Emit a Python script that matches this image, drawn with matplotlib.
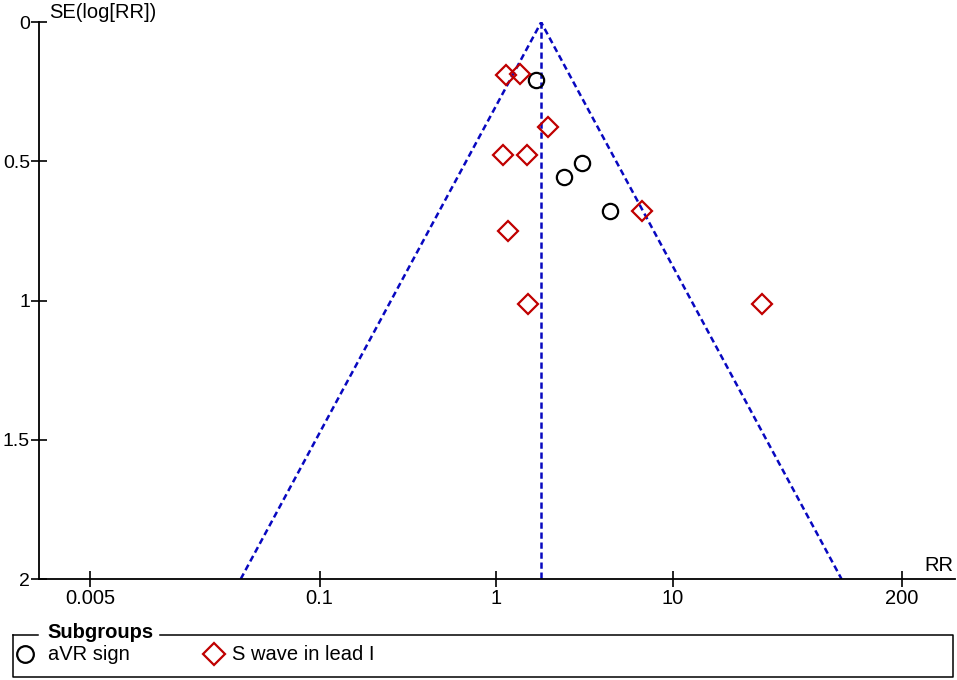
import numpy as np
import matplotlib
matplotlib.use("Agg")
import matplotlib.pyplot as plt

plt.rcParams['font.family'] = ['Liberation Sans', 'DejaVu Sans']

# study estimates
avr_rr = [1.69, 3.08, 2.43, 4.44]
avr_se = [0.207, 0.505, 0.556, 0.678]
swave_rr = [1.14, 1.37, 1.98, 1.10, 1.50, 6.74, 1.17, 1.52, 32.3]
swave_se = [0.189, 0.186, 0.376, 0.477, 0.477, 0.678, 0.750, 1.012, 1.012]
pooled_rr = 1.80
se_max = 2.0

xticks = [0.005, 0.1, 1, 10, 200]
xtick_labels = ['0.005', '0.1', '1', '10', '200']
yticks = [0, 0.5, 1, 1.5, 2]
ytick_labels = ['0', '0.5', '1', '1.5', '2']

fs = 14.5
fig = plt.figure(figsize=(9.57, 6.8), dpi=100)
ax = fig.add_axes([0.0408, 0.1485, 0.957, 0.8187])

# funnel (95% pseudo confidence limits)
blue = '#0808c0'
dash = (0, (2.5, 1.5))
lo = pooled_rr * np.exp(-1.96 * se_max)
hi = pooled_rr * np.exp(1.96 * se_max)
ax.plot([lo, pooled_rr, hi], [se_max, 0, se_max], color=blue, lw=1.8, ls=dash)
ax.plot([pooled_rr, pooled_rr], [0, se_max], color=blue, lw=1.8, ls=dash)

ax.plot(avr_rr, avr_se, ls='none', marker='o', ms=11, mfc='none', mec='black', mew=1.6)
ax.plot(swave_rr, swave_se, ls='none', marker='D', ms=10.5, mfc='none', mec='#c00000', mew=1.6)

ax.set_xscale('log')
ax.set_xlim(10 ** -2.59, 10 ** 2.60)
ax.set_ylim(2, 0)
ax.set_xticks(xticks)
ax.set_xticklabels(xtick_labels)
ax.xaxis.set_minor_locator(matplotlib.ticker.NullLocator())
ax.set_yticks(yticks)
ax.set_yticklabels(ytick_labels)

for s in ['top', 'right']:
    ax.spines[s].set_visible(False)
for s in ['left', 'bottom']:
    ax.spines[s].set_linewidth(1.3)
ax.tick_params(axis='both', direction='inout', length=11, width=1.2, labelsize=fs)
ax.tick_params(axis='x', pad=1.5)
ax.tick_params(axis='y', pad=1.0, labelsize=14)

ax.text(0.011, 1.0, 'SE(log[RR])', transform=ax.transAxes, fontsize=fs,
        ha='left', va='bottom')
ax.text(0.998, 0.008, 'RR', transform=ax.transAxes, fontsize=fs,
        ha='right', va='bottom')

# legend box drawn in its own axes (pixel coordinates)
lax = fig.add_axes([0, 0, 1, 1])
lax.set_xlim(0, 957)
lax.set_ylim(680, 0)
lax.axis('off')
box_l, box_r, box_t, box_b = 12.5, 952.5, 634.5, 677
lax.plot([box_l, box_l, box_r, box_r, 160], [box_t, box_b, box_b, box_t, box_t], color='black', lw=1.1)
lax.plot([box_l, 38], [box_t, box_t], color='black', lw=1.1)
lax.text(47, box_t - 2, 'Subgroups', fontsize=fs, fontweight='bold', ha='left', va='center')
lax.plot([25], [654], ls='none', marker='o', ms=12, mfc='none', mec='black', mew=1.6)
lax.text(48, 654, 'aVR sign', fontsize=fs, ha='left', va='center')
lax.plot([214], [654], ls='none', marker='D', ms=11, mfc='none', mec='#c00000', mew=1.6)
lax.text(232, 654, 'S wave in lead I', fontsize=fs, ha='left', va='center')

fig.savefig('out.png', dpi=100)
